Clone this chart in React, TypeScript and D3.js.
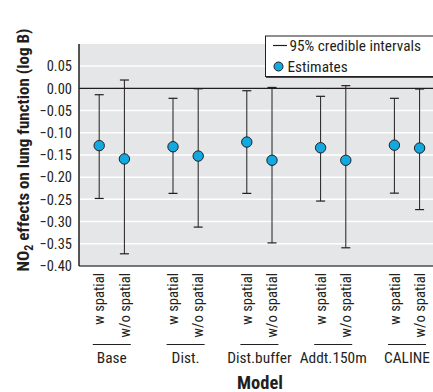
import React from "react";
import * as d3 from "d3";

const groups = ["Base", "Dist.", "Dist.buffer", "Addt.150m", "CALINE"];
const variants = ["w spatial", "w/o spatial"];
const estimates = [
  [-0.129, -0.159],
  [-0.1315, -0.1525],
  [-0.121, -0.162],
  [-0.1338, -0.162],
  [-0.128, -0.1345],
];
const lowers = [
  [-0.248, -0.3725],
  [-0.2365, -0.3124],
  [-0.2365, -0.348],
  [-0.2538, -0.359],
  [-0.236, -0.273],
];
const uppers = [
  [-0.0144, 0.0187],
  [-0.0225, -0.001],
  [-0.0054, 0.002],
  [-0.018, 0.006],
  [-0.0225, -0.0016],
];
const yTicks = [0.05, 0, -0.05, -0.1, -0.15, -0.2, -0.25, -0.3, -0.35, -0.4];

const W = 433;
const H = 392;
const plotLeft = 79;
const plotRight = 433;
const plotBottom = 266;
const COND = "'Liberation Sans Narrow', 'Arial Narrow', 'Roboto Condensed', sans-serif";

export default function App() {
  const y = d3.scaleLinear().domain([-0.4, 0.1]).range([plotBottom, 43.9]);
  const xg = d3.scalePoint<string>().domain(groups).range([111.8, 407]);
  const xs = d3.scalePoint<string>().domain(variants).range([-12.6, 12.6]);
  const plotTop = y(0.1);
  const fmt = (v: number) => {
    const s = d3.format(".2f")(Math.abs(v));
    return v < -1e-9 ? "\u2212" + s : s;
  };
  const points: { x: number; est: number; lo: number; hi: number; key: string }[] = [];
  groups.forEach((g, gi) => {
    variants.forEach((v, vi) => {
      points.push({
        key: g + v,
        x: (xg(g) as number) + (xs(v) as number),
        est: estimates[gi][vi],
        lo: lowers[gi][vi],
        hi: uppers[gi][vi],
      });
    });
  });
  const blue = "#12a8e0";
  return (
    <svg width={W} height={H} style={{ position: "absolute", left: 0, top: 0 }} fontFamily={COND}>
      <rect x={plotLeft} y={plotTop} width={plotRight - plotLeft} height={plotBottom - plotTop} fill="#e5e6e7" />
      {yTicks.map((t) => (
        <g key={t}>
          {t !== 0 && t !== -0.4 && (
            <line x1={plotLeft} x2={plotRight} y1={y(t)} y2={y(t)} stroke="#ffffff" strokeWidth={1.5} />
          )}
          <text x={72} y={y(t)} dy="0.36em" textAnchor="end" fontSize={14.5} fill="#231f20">
            {fmt(t)}
          </text>
        </g>
      ))}
      <line x1={plotLeft} x2={plotRight} y1={y(0)} y2={y(0)} stroke="#231f20" strokeWidth={1.2} />
      <line x1={plotLeft} x2={plotRight} y1={plotBottom} y2={plotBottom} stroke="#4d4d4f" strokeWidth={1.5} />
      <line x1={plotLeft} x2={plotLeft} y1={plotTop} y2={plotBottom} stroke="#231f20" strokeWidth={1.5} />
      {points.map((p) => (
        <g key={p.key}>
          <line x1={p.x} x2={p.x} y1={y(p.hi)} y2={y(p.lo)} stroke="#231f20" strokeWidth={1} />
          <line x1={p.x - 4.5} x2={p.x + 4.5} y1={y(p.hi)} y2={y(p.hi)} stroke="#231f20" strokeWidth={1.2} />
          <line x1={p.x - 4.5} x2={p.x + 4.5} y1={y(p.lo)} y2={y(p.lo)} stroke="#231f20" strokeWidth={1.2} />
          <circle cx={p.x} cy={y(p.est)} r={5.2} fill={blue} stroke="#231f20" strokeWidth={1} />
        </g>
      ))}
      {groups.map((g) => {
        const cx = xg(g) as number;
        return (
          <g key={g}>
            {variants.map((v) => {
              const x = cx + (xs(v) as number);
              return (
                <text
                  key={v}
                  x={x}
                  y={273}
                  transform={`rotate(-90, ${x}, 273)`}
                  textAnchor="end"
                  dy="0.36em"
                  fontSize={14.6}
                  fill="#231f20"
                >
                  {v}
                </text>
              );
            })}
            <line x1={cx - 19} x2={cx + 19} y1={344.5} y2={344.5} stroke="#231f20" strokeWidth={1.2} />
            <text x={cx} y={363} textAnchor="middle" fontSize={15.4} fill="#231f20">
              {g}
            </text>
          </g>
        );
      })}
      <text x={260} y={388.5} textAnchor="middle" fontSize={18.5} fontWeight="bold" fill="#231f20">
        Model
      </text>
      <text
        x={0}
        y={0}
        transform={`translate(28.5, 150) rotate(-90)`}
        textAnchor="middle"
        fontSize={17}
        fontWeight="bold"
        fill="#231f20"
      >
        NO
        <tspan dy="4" fontSize={12}>2</tspan>
        <tspan dy="-4"> effects on lung function (log B)</tspan>
      </text>
      <g>
        <rect x={266} y={38} width={170} height={40} fill="#4d4d4f" />
        <rect x={265.5} y={36} width={170} height={40.5} fill="#ffffff" stroke="#231f20" strokeWidth={1} />
        <line x1={273} x2={287} y1={45.5} y2={45.5} stroke="#231f20" strokeWidth={1.2} />
        <text x={289.5} y={50.5} fontSize={15.3} fill="#231f20">95% credible intervals</text>
        <circle cx={278.5} cy={66.5} r={4.5} fill={blue} stroke="#231f20" strokeWidth={1} />
        <text x={287.5} y={71.5} fontSize={15.3} fill="#231f20">Estimates</text>
      </g>
    </svg>
  );
}
